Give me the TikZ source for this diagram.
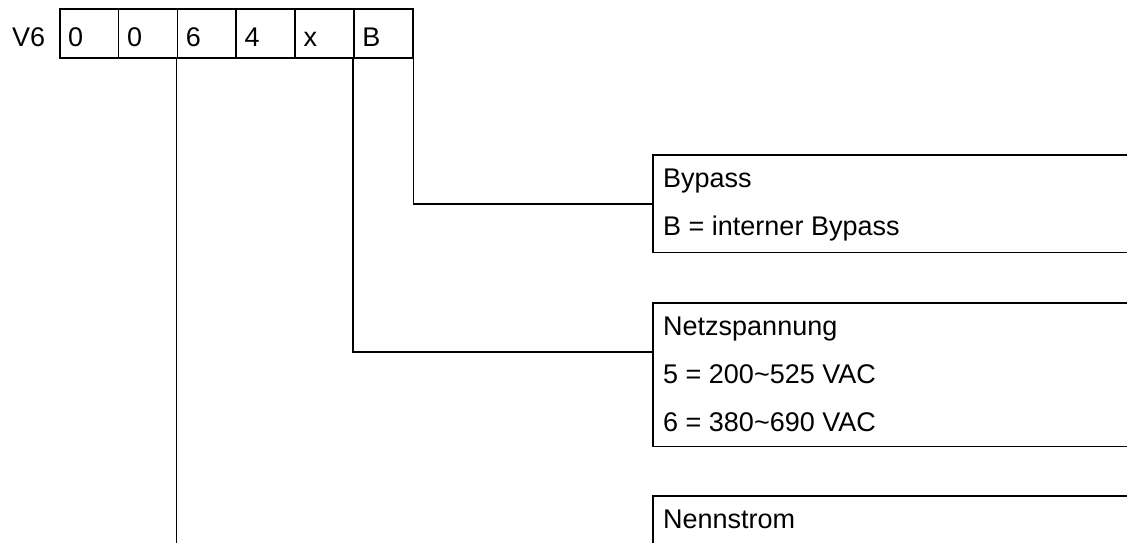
\documentclass[tikz,border=0pt]{standalone}
\usepackage{fontspec}
\setmainfont{Liberation Sans}
\usetikzlibrary{calc}
\begin{document}
\begin{tikzpicture}[x=1pt,y=-1pt,
  ln/.style={line width=1.6pt},
  cell/.style={draw,line width=1.6pt,rectangle,inner sep=0pt,minimum width=58.83pt,minimum height=49pt,anchor=north west},
  txt/.style={inner sep=0pt,anchor=base west,font=\fontsize{27}{31}\selectfont},
  box/.style={rectangle,inner sep=0pt,minimum width=476pt,anchor=north west}]
\useasboundingbox (0,0) rectangle (1127,542);
% code cells
\node[txt] (v6) at (12,46) {V6};
\foreach \i/\t in {1/0,2/0,3/6,4/4,5/x,6/B}{
  \node[cell] (c\i) at ({59+58.83*(\i-1)},8) {};
  \node[txt] (t\i) at ({59+58.83*(\i-1)+9},46) {\t};
}
% boxes
\node[box,minimum height=97pt] (bypass) at (653,155) {};
\node[box,minimum height=143pt] (netz) at (653,303) {};
\node[box,minimum height=80pt] (nenn) at (653,496) {};
\draw[ln] (bypass.north east) -- (bypass.north west) -- (bypass.south west) -- (bypass.south east);
\draw[ln] (netz.north east) -- (netz.north west) -- (netz.south west) -- (netz.south east);
\draw[ln] (nenn.north east) -- (nenn.north west) -- (nenn.south west);
% texts
\node[txt] (b1) at (663,187) {Bypass};
\node[txt] (b2) at (663,235) {B = interner Bypass};
\node[txt] (n1) at (663,335) {Netzspannung};
\node[txt] (n2) at (663,383) {5 = 200\textasciitilde 525 VAC};
\node[txt] (n3) at (663,431) {6 = 380\textasciitilde 690 VAC};
\node[txt] (s1) at (663,528) {Nennstrom};
% connectors
\coordinate (netzin) at ($(netz.north west)+(0,49)$);
\coordinate (nennend) at (177,545);
\draw[ln] (c6.south east) |- (bypass.west);
\draw[ln] (c6.south west) |- (netzin);
\draw[ln] (c3.south west) -- (c3.south west |- nennend);
\end{tikzpicture}
\end{document}
